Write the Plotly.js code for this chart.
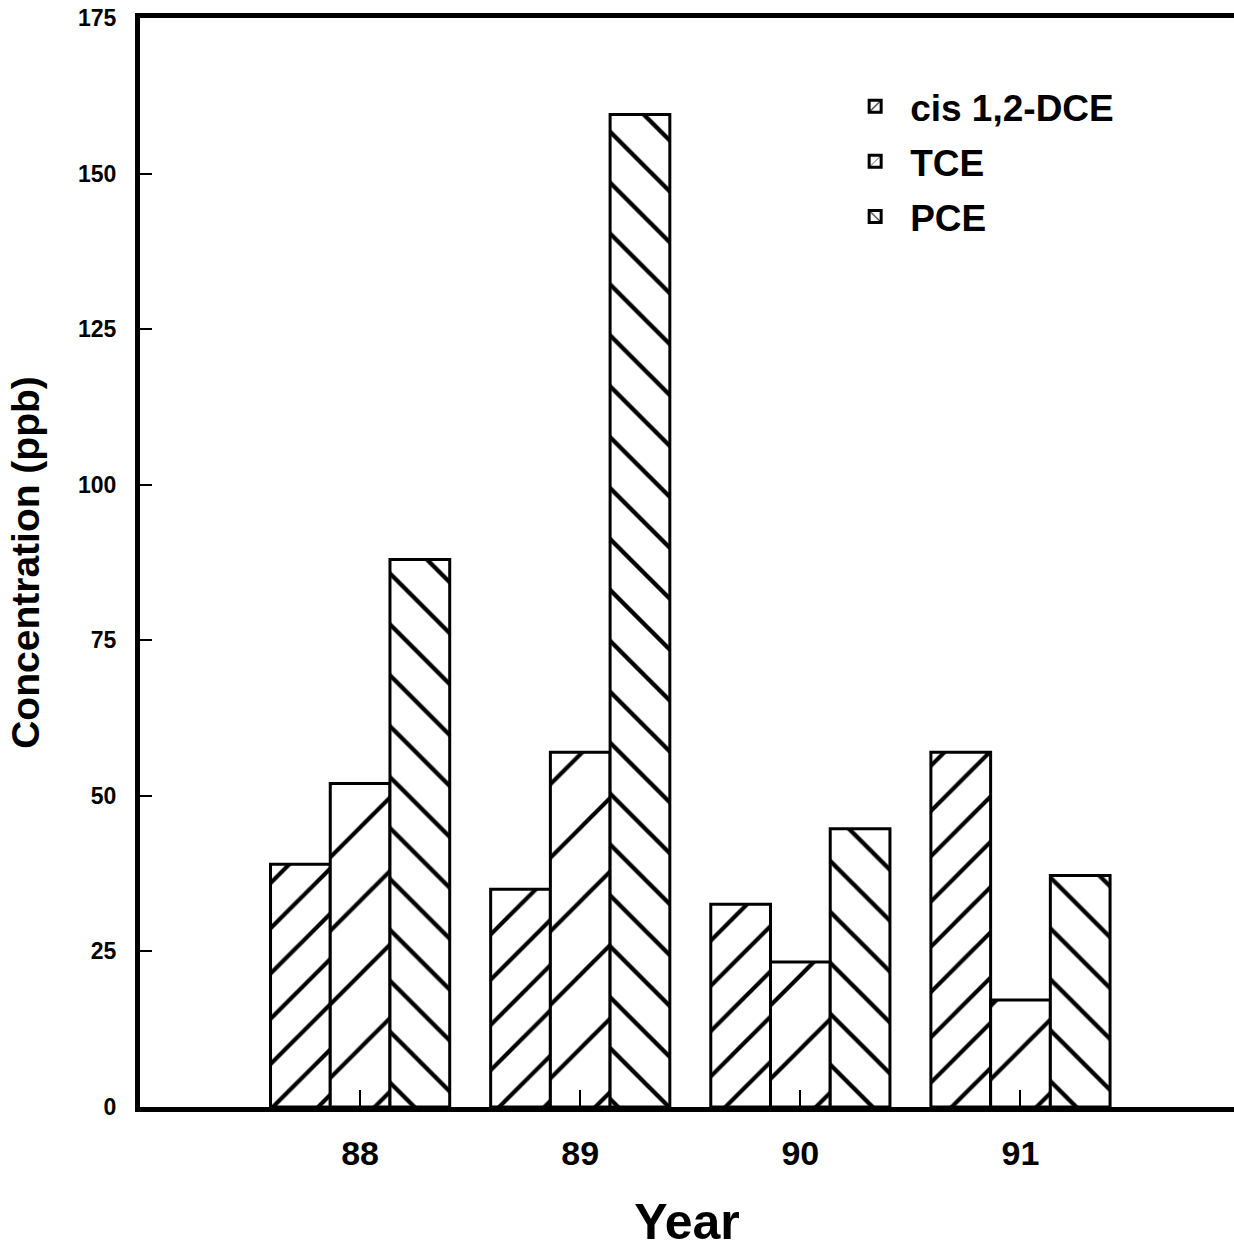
<!DOCTYPE html>
<html>
<head>
<meta charset="utf-8">
<script src="https://cdn.plot.ly/plotly-3.0.1.min.js"></script>
<style>html,body{margin:0;padding:0;background:#fff;overflow:hidden}</style>
</head>
<body>
<div id="chart" style="width:1234px;height:1250px"></div>
<script>
const years = ["88", "89", "90", "91"];
const cisDCE = [39, 35, 32.6, 57];
const tce = [52, 57, 23.3, 17.2];
const pce = [88, 159.5, 44.7, 37.2];
const seriesNames = ["cis 1,2-DCE", "TCE", "PCE"];
const yTicks = [0, 25, 50, 75, 100, 125, 150, 175];

const FONT = "Liberation Sans, Arial, Helvetica, sans-serif";

function barTrace(name, values, shape, size, solidity) {
  return {
    type: "bar",
    name: name,
    legendgroup: name,
    x: years,
    y: values,
    marker: {
      color: "white",
      line: {color: "black", width: 3},
      pattern: {shape: shape, size: size, solidity: solidity, fgcolor: "black", bgcolor: "white", fillmode: "replace"}
    },
    hoverinfo: "skip"
  };
}

const data = [
  barTrace(seriesNames[0], cisDCE, "/", 32, 0.13),
  barTrace(seriesNames[1], tce, "/", 52, 0.08),
  barTrace(seriesNames[2], pce, "\\", 36, 0.12)
];

const layout = {
  width: 1234,
  height: 1250,
  margin: {l: 140, r: 0, t: 18, b: 143},
  paper_bgcolor: "white",
  plot_bgcolor: "white",
  barmode: "group",
  bargap: 0.186,
  bargroupgap: 0,
  font: {family: FONT, color: "black"},
  showlegend: true,
  legend: {
    x: 0.64, y: 0.947, xanchor: "left", yanchor: "top",
    font: {family: FONT, size: 37, color: "black", weight: "bold"},
    bgcolor: "rgba(0,0,0,0)",
    traceorder: "grouped",
    tracegroupgap: 4,
    itemwidth: 60
  },
  xaxis: {
    type: "category",
    range: [-1, 3.97],
    showline: true, linecolor: "black", linewidth: 5,
    mirror: true,
    ticks: "inside", ticklen: 17, tickwidth: 2, tickcolor: "black",
    tickfont: {family: FONT, size: 34, color: "black", weight: "bold"},
    ticklabelstandoff: 12,
    showgrid: false, zeroline: false,
    title: {text: "Year", font: {family: FONT, size: 50, color: "black", weight: "bold"}, standoff: 36}
  },
  yaxis: {
    range: [0, 175],
    tickvals: yTicks,
    ticktext: yTicks.map(String),
    showline: true, linecolor: "black", linewidth: 5,
    mirror: false,
    ticks: "inside", ticklen: 12, tickwidth: 2, tickcolor: "black",
    tickfont: {family: FONT, size: 23, color: "black", weight: "bold"},
    ticklabelstandoff: 14,
    showgrid: false, zeroline: false,
    title: {text: "Concentration (ppb)", font: {family: FONT, size: 39, color: "black", weight: "bold"}, standoff: 28}
  }
};

Plotly.newPlot("chart", data, layout, {staticPlot: true, displayModeBar: false});
</script>
</body>
</html>
